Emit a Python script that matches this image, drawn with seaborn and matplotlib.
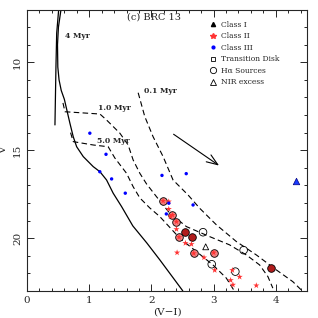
import numpy as np
import pandas as pd
import seaborn as sns
import matplotlib.pyplot as plt
from matplotlib.ticker import MultipleLocator

# --- isochrones / main sequence ---
ms_x = [0.546, 0.505, 0.490, 0.495, 0.515, 0.550, 0.600, 0.640, 0.690, 0.743, 0.798, 0.904,
        1.064, 1.172, 1.279, 1.385, 1.520, 1.701, 1.926, 2.135, 2.504]
ms_y = [7.0, 8.0, 9.0, 10.27, 11.0, 11.6, 12.1, 12.71, 13.47, 14.23, 14.80, 15.36,
        15.93, 16.22, 16.69, 17.44, 18.20, 19.30, 20.27, 21.23, 22.99]
iso4_x = [0.509, 0.477, 0.465, 0.449]
iso4_y = [7.0, 8.34, 10.27, 13.56]

iso01_x = [1.787, 1.894, 2.027, 2.188, 2.348, 2.589, 2.777, 3.045, 3.366, 3.687, 4.008, 4.274, 4.435]
iso01_y = [11.73, 13.09, 14.23, 15.36, 16.69, 17.54, 18.30, 19.24, 20.19, 20.95, 21.80, 22.47, 23.03]
iso1_x = [0.578, 0.610, 1.172, 1.279, 1.493, 1.626, 1.706, 1.814, 1.921, 2.082, 2.295, 2.563,
          2.937, 3.258, 3.526, 3.740, 3.873, 3.953]
iso1_y = [12.31, 12.81, 12.94, 13.28, 14.03, 14.70, 15.55, 16.31, 16.91, 17.64, 18.58, 19.34,
          19.91, 20.38, 20.95, 21.52, 22.18, 22.84]
iso5_x = [0.70, 0.743, 1.064, 1.305, 1.412, 1.600, 1.706, 1.814, 1.974, 2.135, 2.456, 2.724,
          2.990, 3.205, 3.339]
iso5_y = [14.0, 14.51, 14.70, 14.80, 15.44, 16.31, 17.07, 17.71, 18.28, 18.77, 20.00, 20.76,
          21.52, 22.27, 23.03]

# --- sources ---
c1_x = [4.32]
c1_y = [16.73]
c2_x = [2.279, 2.279, 2.307, 2.403, 2.547, 2.644, 2.413, 2.846, 3.018, 3.302, 3.419, 3.274,
        3.311, 3.687]
c2_y = [17.92, 18.34, 18.77, 19.49, 20.28, 20.34, 20.82, 21.10, 21.82, 21.82, 22.20, 22.39,
        22.65, 22.69]
c3_x = [1.01, 1.27, 1.17, 1.36, 1.58, 2.17, 2.56, 2.28, 2.67, 2.24]
c3_y = [14.03, 15.23, 16.22, 16.63, 17.44, 16.43, 16.33, 18.01, 18.11, 18.62]
c2ha_x = [2.188, 2.339, 2.403, 2.445, 2.681, 3.002]
c2ha_y = [17.88, 18.68, 19.06, 19.94, 20.86, 20.82]
dark_x = [2.547, 2.660, 3.928]
dark_y = [19.66, 19.91, 21.67]
ha_x = [2.830, 3.483, 2.970, 3.350]
ha_y = [19.66, 20.68, 21.48, 21.90]
nir_x = [2.873]
nir_y = [20.49]

sns.set_style("ticks")
plt.rcParams['font.family'] = ['DejaVu Serif']

fig, ax = plt.subplots(figsize=(3.18, 3.18), dpi=100)
fig.subplots_adjust(left=0.085, right=0.965, bottom=0.085, top=0.97)

for xs, ys in [(ms_x, ms_y), (iso4_x, iso4_y)]:
    sns.lineplot(x=xs, y=ys, sort=False, estimator=None, color="black", lw=0.9, ax=ax)
for xs, ys in [(iso01_x, iso01_y), (iso1_x, iso1_y), (iso5_x, iso5_y)]:
    sns.lineplot(x=xs, y=ys, sort=False, estimator=None, color="black", lw=0.8,
                 linestyle=(0, (5, 3)), ax=ax)

ax.text(0.61, 8.51, "4 Myr", fontsize=5.5, fontweight="bold", va="center")
ax.text(1.145, 12.61, "1.0 Myr", fontsize=5.5, fontweight="bold", va="center")
ax.text(1.118, 14.45, "5.0 Myr", fontsize=5.5, fontweight="bold", va="center")
ax.text(1.88, 11.61, "0.1 Myr", fontsize=5.5, fontweight="bold", va="center")
ax.text(2.04, 7.43, "(c) BRC 13", fontsize=7, ha="center", va="center")

# reddening vector
ax.annotate("", xy=(3.125, 15.96), xytext=(2.32, 14.0),
            arrowprops=dict(arrowstyle="->,head_length=0.8,head_width=0.3", color="black", lw=0.8))

sns.scatterplot(x=c2ha_x, y=c2ha_y, marker="o", s=30, color="#f08080", edgecolor="black",
                linewidth=0.6, ax=ax, zorder=3)
sns.scatterplot(x=dark_x, y=dark_y, marker="o", s=30, color="#b01c1c", edgecolor="black",
                linewidth=0.6, ax=ax, zorder=3)
sns.scatterplot(x=c2_x + c2ha_x, y=c2_y + c2ha_y, marker="*", s=22, color="#ff3333",
                edgecolor="none", ax=ax, zorder=4)
sns.scatterplot(x=c3_x, y=c3_y, marker="o", s=6, color="blue", edgecolor="none", ax=ax, zorder=4)
sns.scatterplot(x=ha_x, y=ha_y, marker="o", s=30, facecolor="none", edgecolor="black",
                linewidth=0.6, ax=ax, zorder=3)
sns.scatterplot(x=nir_x, y=nir_y, marker="^", s=18, facecolor="none", edgecolor="black",
                linewidth=0.6, ax=ax, zorder=3)
sns.scatterplot(x=c1_x, y=c1_y, marker="^", s=22, color="#1a3cff", edgecolor="#000080",
                linewidth=0.5, ax=ax, zorder=3)

# legend
h = [
    plt.Line2D([], [], ls="", marker="^", ms=3, color="black"),
    plt.Line2D([], [], ls="", marker="*", ms=4, color="#ff3333"),
    plt.Line2D([], [], ls="", marker="o", ms=2, color="blue"),
    plt.Line2D([], [], ls="", marker="s", ms=3, mfc="none", mec="black", mew=0.6),
    plt.Line2D([], [], ls="", marker="o", ms=4.5, mfc="none", mec="black", mew=0.6),
    plt.Line2D([], [], ls="", marker="^", ms=4, mfc="none", mec="black", mew=0.6),
]
labels = ["Class I", "Class II", "Class III", "Transition Disk", "Hα Sources", "NIR excess"]
ax.legend(h, labels, loc="upper left", bbox_to_anchor=(0.64, 0.97), frameon=False,
          fontsize=5.5, handlelength=1.0, handletextpad=0.6, labelspacing=0.45,
          borderaxespad=0)

ax.set_xlim(0, 4.5)
ax.set_ylim(23, 7)
ax.xaxis.set_major_locator(MultipleLocator(1))
ax.xaxis.set_minor_locator(MultipleLocator(0.2))
ax.yaxis.set_major_locator(MultipleLocator(5))
ax.yaxis.set_minor_locator(MultipleLocator(1))
ax.tick_params(which="both", direction="in", top=True, right=True, labelsize=7.5, width=0.7)
ax.tick_params(which="major", length=5)
ax.tick_params(which="minor", length=2.5)
for lab in ax.get_yticklabels():
    lab.set_rotation(90)
    lab.set_va("center")
for sp in ax.spines.values():
    sp.set_linewidth(0.8)
ax.set_xlabel("(V−I)", fontsize=7.5, labelpad=2)
ax.set_ylabel("V", fontsize=7.5, labelpad=4)

fig.savefig("out.png", dpi=100)
